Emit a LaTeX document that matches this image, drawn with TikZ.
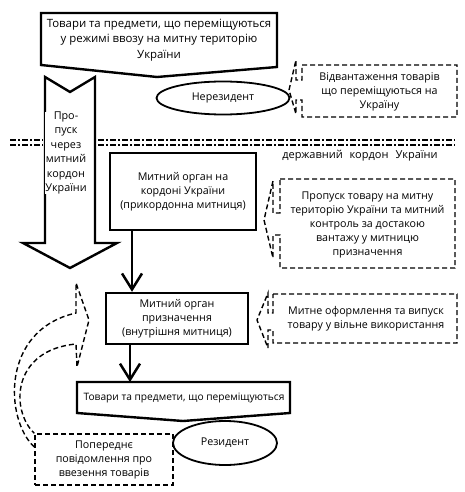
\documentclass[tikz,border=0pt]{standalone}
\usepackage{fontspec}
\setmainfont{Open Sans}
\usetikzlibrary{arrows.meta,shapes.geometric}
\begin{document}
\begin{tikzpicture}[x=1pt,y=-1pt,
  solidline/.style={draw, line width=2.4pt, line join=miter},
  dashline/.style={draw, line width=1.4pt, dash pattern=on 5pt off 3pt},
  borderline/.style={line width=2pt, dash pattern=on 6pt off 2pt on 2pt off 2pt},
  txt/.style={align=center, inner sep=0pt, font=\fontsize{10.7}{14}\selectfont},
  bigarrow/.style={line width=2.5pt, -{Straight Barb[length=16pt,width=20pt,line width=2.5pt]}}]
\useasboundingbox[fill=white] (0,0) rectangle (465,492);

% state border
\draw[borderline] (10,140) -- (43,140);
\draw[borderline] (10,145) -- (43,145);
\draw[borderline] (98,140) -- (455,140);
\draw[borderline] (98,145) -- (455,145);
\node[txt, font=\fontsize{11}{14}\selectfont] (borderlbl) at (360,156) {державний\hspace{7pt}кордон\hspace{7pt}України};

% top pentagon
\draw[solidline] (41,13) -- (277,13) -- (277,67) -- (157,77) -- (41,65) -- cycle;
\node[txt, font=\fontsize{11.4}{15.5}\selectfont] (top) at (159,40)
  {Товари та предмети, що переміщуються\\у режимі ввозу на митну територію\\України};

% big block arrow
\draw[solidline, fill=white] (45,77) -- (70,92) -- (95,77) -- (95,243) -- (117,243) -- (70,268) -- (23,243) -- (45,243) -- cycle;
\node[txt, fill=white, font=\fontsize{10.8}{14.5}\selectfont] (pass) at (66,153)
  {Про-\\пуск\\через\\митний\\кордон\\України};

% non-resident
\node[draw, ellipse, line width=1.8pt, minimum width=133pt, minimum height=33pt, inner sep=0pt, font=\fontsize{10.7}{14}\selectfont] (nonres) at (223,98) {Нерезидент};

% callout 1
\draw[dashline] (302,65) -- (457,65) -- (457,117) -- (302,117) -- (302,100) -- (296,100) -- (296,114) -- (289,90) -- (296,60) -- (296,80) -- (302,80) -- cycle;
\node[txt] (ship) at (379.5,91.5) {Відвантаження товарів\\що переміщуються на\\Україну};

% border customs
\node[solidline, minimum width=146pt, minimum height=77pt, txt] (cust1) at (183,191.5)
  {Митний орган на\\кордоні України\\(прикордонна митниця)};

% callout 2
\draw[dashline] (280,179) -- (455,179) -- (455,268) -- (280,268) -- (280,235) -- (273,235) -- (273,258) -- (264,220) -- (273,181) -- (273,213) -- (280,213) -- cycle;
\node[txt] (pass2) at (367.5,225)
  {Пропуск товару на митну\\територію України та митний\\контроль за достакою\\вантажу у митницю\\призначення};

% destination customs
\node[solidline, minimum width=142pt, minimum height=51pt, txt] (cust2) at (177,318.5)
  {Митний орган\\призначення\\(внутрішня митниця)};

% callout 3
\draw[dashline] (273,294) -- (457,294) -- (457,343) -- (273,343) -- (273,330) -- (268,330) -- (268,348) -- (257,320) -- (268,293) -- (268,313) -- (273,313) -- cycle;
\node[txt] (clear) at (366,318.5)
  {Митне оформлення та випуск\\товару у вільне використання};

% bottom pentagon
\draw[solidline] (77,382) -- (290,382) -- (290,413) -- (183,421) -- (77,413) -- cycle;
\node[txt, font=\fontsize{10.2}{13}\selectfont] (goods) at (184,398) {Товари та предмети, що переміщуються};

% resident
\node[draw, ellipse, line width=1.8pt, fill=white, minimum width=104pt, minimum height=44pt, inner sep=0pt, font=\fontsize{10.7}{14}\selectfont] (res) at (225,443) {Резидент};

% notice box
\node[dashline, minimum width=138pt, minimum height=51pt, txt] (notice) at (104,459.5)
  {Попереднє\\повідомлення про\\ввезення товарів};

% curved dashed arrow
\draw[dashline] (notice.west |- 0,447) .. controls (5,420) and (0,330) .. (76,313) -- (76,283) -- (89,320) -- (77,367) -- (76,344) .. controls (12,350) and (10,410) .. (notice.north west);

% arrows
\coordinate (ax1) at (132,0);
\coordinate (ax2) at (130,0);
\coordinate (g2top) at (130,382);
\draw[bigarrow] (cust1.south -| ax1) -- (cust2.north -| ax1);
\draw[bigarrow] (cust2.south -| ax2) -- (g2top);
\end{tikzpicture}
\end{document}
